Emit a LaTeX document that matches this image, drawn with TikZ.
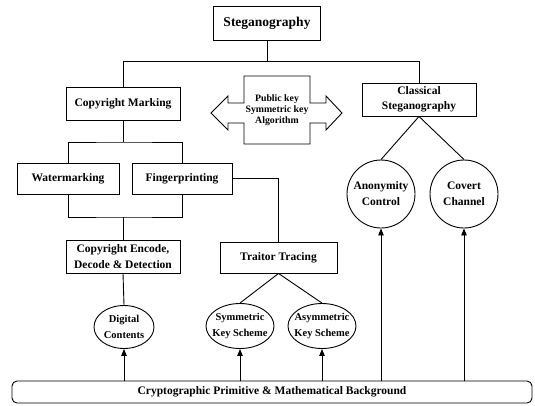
\documentclass[tikz,border=0pt]{standalone}
\usepackage{fontspec}
\setmainfont{Liberation Serif}
\usetikzlibrary{shapes.geometric,arrows.meta}

\begin{document}
\begin{tikzpicture}[x=1pt,y=1pt,yscale=-1,
  box/.style={draw,line width=0.9pt,inner sep=0pt,align=center,font=\fontsize{11.5}{15.5}\bfseries},
  oval/.style={draw,ellipse,line width=0.9pt,inner sep=-4pt,align=center,font=\fontsize{10.5}{16}\bfseries},
  disc/.style={draw,circle,line width=0.9pt,inner sep=-2pt,minimum size=68pt,align=center,font=\fontsize{11.5}{16}\bfseries},
  link/.style={line width=0.9pt},
  up/.style={line width=0.9pt,-{Triangle[length=7pt,width=5.5pt]}}]
\useasboundingbox (0,0) rectangle (535,405);

%Boxes
\node[box,minimum width=107,minimum height=34,font=\fontsize{13.5}{15}\bfseries] (stego) at (267,23) {Steganography};
\node[box,minimum width=114,minimum height=33] (cm) at (123,103.5) {Copyright Marking};
\node[box,minimum width=114,minimum height=33] (cs) at (419,99.5) {Classical\\Steganography};
\node[box,minimum width=102,minimum height=31] (wm) at (68,178.5) {Watermarking};
\node[box,minimum width=100,minimum height=31] (fp) at (182,178.5) {Fingerprinting};
\node[box,minimum width=114,minimum height=33] (ce) at (123,256.5) {Copyright Encode,\\Decode \& Detection};
\node[box,minimum width=117,minimum height=31] (tt) at (278.5,257.5) {Traitor Tracing};
\node[box,minimum width=520,minimum height=22,rounded corners=5pt] (base) at (272,392) {Cryptographic Primitive \& Mathematical Background};

%Ovals and circles
\node[oval,minimum width=60,minimum height=43] (dc) at (124,327) {Digital\\Contents};
\node[oval,minimum width=68,minimum height=45] (sym) at (240,326) {Symmetric\\Key Scheme};
\node[oval,minimum width=68,minimum height=45] (asym) at (322,326) {Asymmetric\\Key Scheme};
\node[disc] (anon) at (381,194) {Anonymity\\Control};
\node[disc] (cov) at (464,194) {Covert\\Channel};

%Double arrow
\draw[link] (211,113) -- (228,96) -- (228,103) -- (244,103) -- (244,76) -- (310,76) -- (310,103) -- (326,103) -- (326,96) -- (342,113) -- (326,130) -- (326,123) -- (310,123) -- (310,144) -- (244,144) -- (244,123) -- (228,123) -- (228,130) -- cycle;
\node[font=\fontsize{9.8}{11}\bfseries,align=center] (algo) at (277,110) {Public key\\Symmetric key\\Algorithm};

%Tree lines
\coordinate (split) at (123,142);
\coordinate (join) at (123,217);
\draw[link] (stego.south) -- (stego.south |- 0,62);
\draw[link] (cm.north) -- ++(0,-25) -| (cs.north);
\draw[link] (cm.south) -- (split);
\draw[link] (wm.north) |- (split) -| (fp.north);
\draw[link] (wm.south) |- (join) -| (fp.south);
\draw[link] (join) -- (ce.north);
\draw[link] (fp.east) -| (tt.north);
\draw[link] (ce.south) -- (dc.north);
\draw[link] (tt.south) -- (sym.north);
\draw[link] (tt.south) -- (asym.north);
\draw[link] (cs.south) -- (anon.north);
\draw[link] (cs.south) -- (cov.north);

%Arrows from background
\foreach \n in {dc,sym,asym,anon,cov}
  \draw[up] (\n.south |- base.north) -- (\n.south);
\end{tikzpicture}
\end{document}
